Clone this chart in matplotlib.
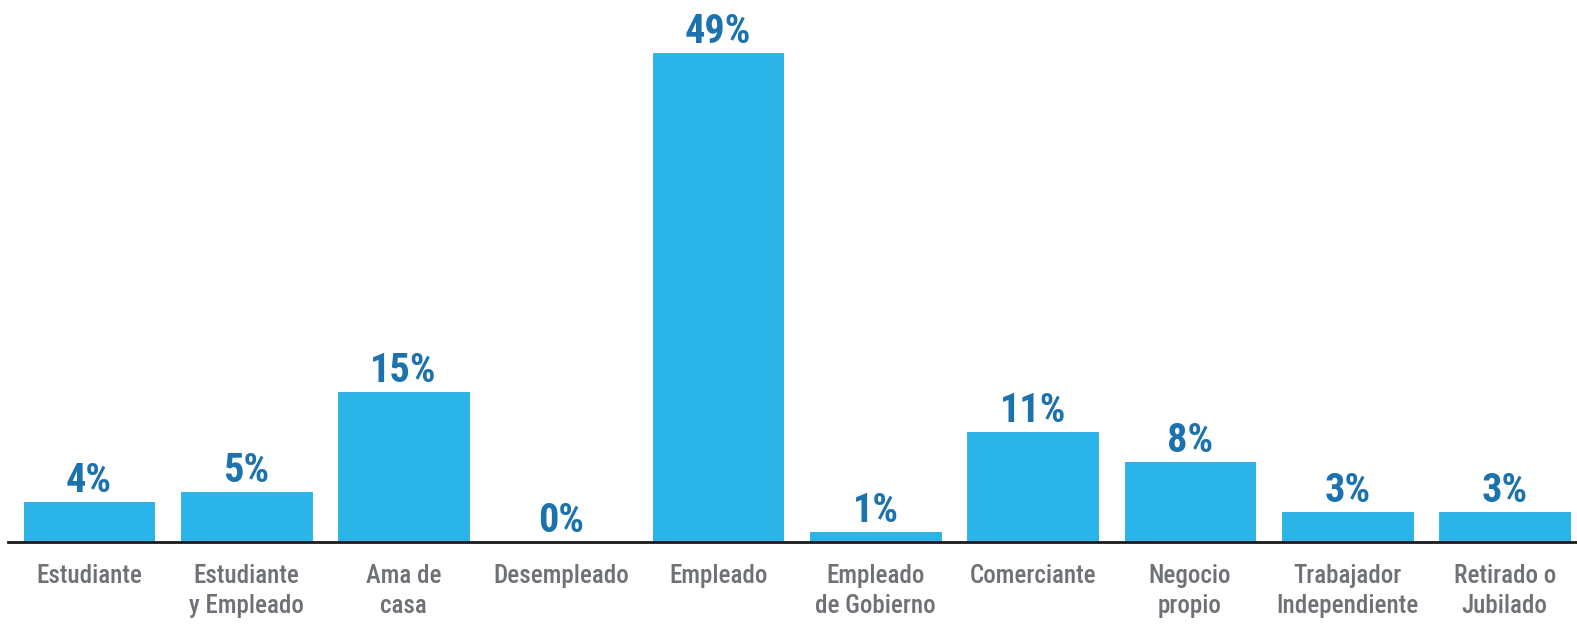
import matplotlib
matplotlib.use("Agg")
import matplotlib.pyplot as plt

categories = ["Estudiante", "Estudiante\ny Empleado", "Ama de\ncasa", "Desempleado", "Empleado",
              "Empleado\nde Gobierno", "Comerciante", "Negocio\npropio", "Trabajador\nIndependiente",
              "Retirado o\nJubilado"]
values = [4, 5, 15, 0, 49, 1, 11, 8, 3, 3]
labels = ["4%", "5%", "15%", "0%", "49%", "1%", "11%", "8%", "3%", "3%"]

fam = ["Roboto Condensed", "Archivo Narrow", "DejaVu Sans"]

W, H = 1577, 625
fig = plt.figure(figsize=(W/100, H/100), dpi=100)
fig.patch.set_facecolor("white")
ax = fig.add_axes([8/W, (H-542)/H, 1-8/W, 542/H])
ax.set_facecolor("none")
x = list(range(len(values)))
ax.bar(x, values, width=0.83, color="#2BB4E8", edgecolor="#2BAAE0", linewidth=0.6, zorder=2)
ax.set_xlim(-0.515, 9.46)
ax.set_ylim(0, 54.3)
for s in ["top", "right", "left"]:
    ax.spines[s].set_visible(False)
ax.spines["bottom"].set_color("#1a1a1a")
ax.spines["bottom"].set_linewidth(2)
ax.set_yticks([])
ax.set_xticks(x)
ax.set_xticklabels(categories, family=fam, fontsize=18, color="#6E7276", fontweight="medium",
                   linespacing=1.28, va="top")
ax.tick_params(axis="x", length=0, pad=16)
for xi, v, lab in zip(x, values, labels):
    ax.annotate(lab, (xi, v), xytext=(0, 1.5), textcoords="offset points", ha="center", va="bottom",
                family=fam, fontsize=29, fontweight="bold", color="#1C72AE")
fig.savefig("out.png", dpi=100)
